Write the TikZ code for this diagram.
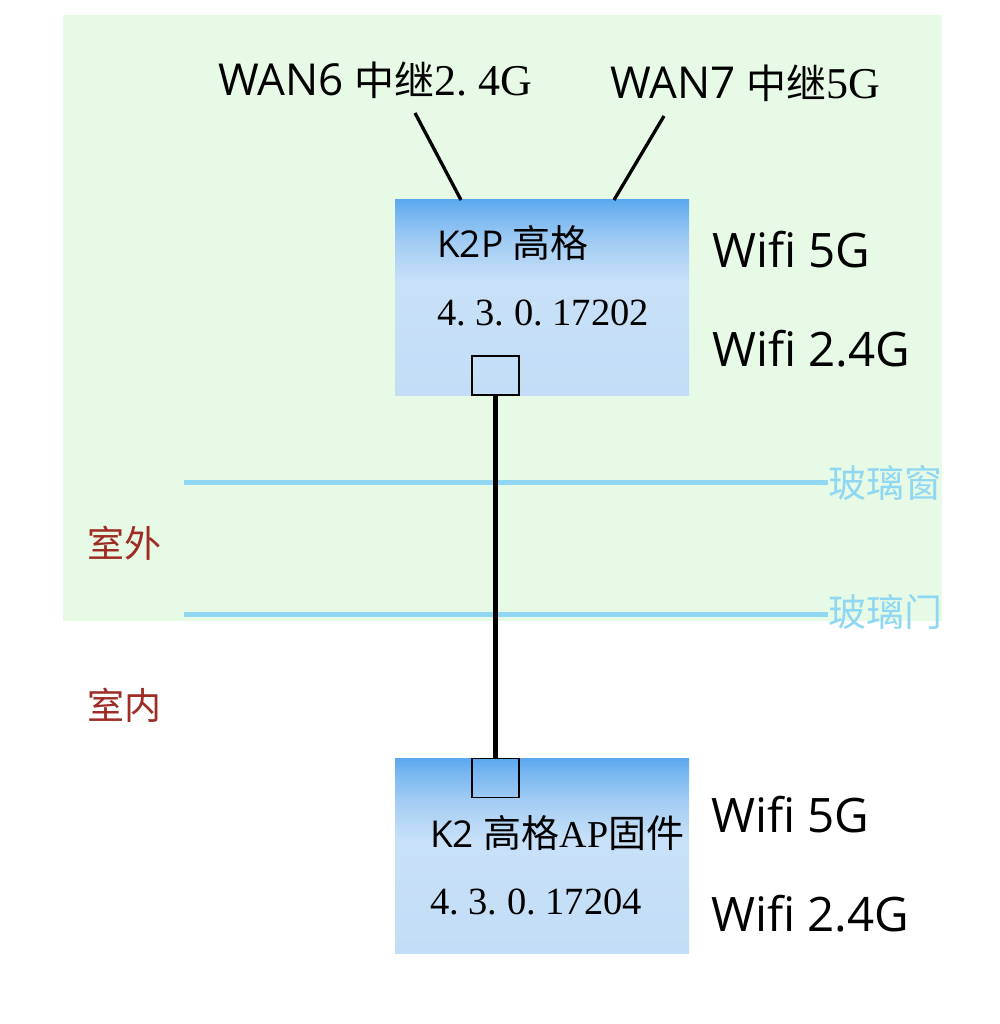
\documentclass[tikz,border=0pt]{standalone}
\usepackage{fontspec}
\setmainfont{Open Sans}
\newfontfamily\cjk{Noto Sans CJK SC}
\newfontfamily\sernum{Liberation Serif}
\definecolor{bggreen}{HTML}{E7FAE5}
\definecolor{boxtop}{HTML}{5CA9EF}
\definecolor{boxupper}{HTML}{7AB8F1}
\definecolor{boxmid}{HTML}{A3CDF4}
\definecolor{boxlt}{HTML}{C8E1F8}
\definecolor{boxbot}{HTML}{C3DDF6}
\definecolor{glass}{HTML}{8FD7F2}
\definecolor{zone}{HTML}{9E2B24}
\pgfdeclareverticalshading{boxshade}{100bp}{color(0bp)=(boxbot); color(25bp)=(boxbot); color(54bp)=(boxlt); color(64bp)=(boxmid); color(71bp)=(boxupper); color(75bp)=(boxtop); color(100bp)=(boxtop)}
\newcommand{\fs}[1]{\fontsize{#1}{#1}\selectfont}
\newcommand{\pd}{.\hspace{0.25em}}
\tikzset{
  routerbox/.style={rectangle, minimum width=294pt, minimum height=195pt, inner sep=0pt, shading=boxshade},
  portbox/.style={rectangle, draw=black, line width=1.8pt, minimum width=47pt, minimum height=39pt, inner sep=0pt},
  lbl/.style={anchor=base west, inner sep=0pt},
  wifi/.style={lbl, font=\fs{47.5}},
  glassline/.style={draw=glass, line width=5pt},
  glasslbl/.style={anchor=west, inner sep=0pt, text=glass, font=\cjk\fs{38}},
  zonelbl/.style={anchor=west, inner sep=0pt, text=zone, font=\cjk\fs{37}},
  antenna/.style={line width=3.3pt},
  cable/.style={line width=4.5pt}
}
\begin{document}
\begin{tikzpicture}[x=1pt,y=-1pt]
\useasboundingbox (0,0) rectangle (999,1024);
\fill[bggreen] (63,15) rectangle (942,621);

% glass lines
\node[glasslbl] (win) at (828,483) {玻璃窗};
\node[glasslbl] (door) at (828,612) {玻璃门};
\coordinate (winL) at (184,482);
\coordinate (doorL) at (184,614);
\draw[glassline] (winL) -- (winL -| win.west);
\draw[glassline] (doorL) -- (doorL -| door.west);

\node[zonelbl] (out) at (87,543) {室外};
\node[zonelbl] (in) at (87,705) {室内};

% routers
\node[routerbox] (k2p) at (542,297.5) {};
\node[routerbox] (k2) at (542,856) {};
\node[portbox] (p1) at (495.5,375.5) {};
\node[portbox] (p2) at (495.5,778) {};
\draw[cable] (p1.south) -- (p2.north);

% antennas
\coordinate (a1) at (415,113);
\coordinate (a2) at (664,116);
\draw[antenna] (a1) -- (461,200);
\draw[antenna] (a2) -- (614,200);

\node[lbl] (wan6) at (218,96) {\fs{44}WAN6 {\cjk\fs{40}中继}{\sernum\fs{44}2\pd4G}};
\node[lbl] (wan7) at (610,99) {\fs{44}WAN7 {\cjk\fs{40}中继}{\sernum\fs{44}5G}};

\node[lbl] (k2pname) at (437,257) {\fs{37}K2P {\cjk\fs{38}高格}};
\node[lbl] (k2pver) at (437,325) {\sernum\fs{38.5}4\pd3\pd0\pd17202};
\node[lbl] (k2name) at (430,847) {\fs{37}K2 {\cjk\fs{38}高格}{\sernum\fs{38}AP}{\cjk\fs{38}固件}};
\node[lbl] (k2ver) at (430,914) {\sernum\fs{38.5}4\pd3\pd0\pd17204};

\node[wifi] (w1) at (712,267) {Wifi 5G};
\node[wifi] (w2) at (712,366) {Wifi 2.4G};
\node[wifi] (w3) at (711,832) {Wifi 5G};
\node[wifi] (w4) at (711,931) {Wifi 2.4G};
\end{tikzpicture}
\end{document}
